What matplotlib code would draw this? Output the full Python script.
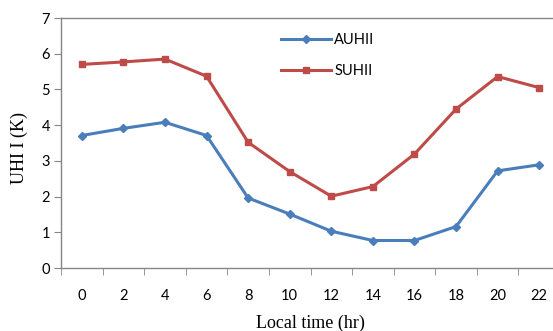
import numpy as np
import matplotlib as mpl
mpl.use('Agg')
import matplotlib.pyplot as plt
from matplotlib.ticker import FixedLocator

hours = [0, 2, 4, 6, 8, 10, 12, 14, 16, 18, 20, 22]
auhii = [3.71, 3.91, 4.08, 3.71, 1.96, 1.51, 1.03, 0.77, 0.77, 1.16, 2.72, 2.89]
suhii = [5.70, 5.77, 5.85, 5.37, 3.52, 2.70, 2.01, 2.28, 3.19, 4.45, 5.36, 5.05]

blue = '#4a7ebb'
red = '#be4b48'
grey = '#868686'

fig = plt.figure(figsize=(5.53, 3.31), dpi=100)
W, H = 553.0, 331.0
ax = fig.add_axes([61 / W, (H - 268) / H, (560 - 61) / W, (268 - 18) / H])

x = np.arange(len(hours))
ax.plot(x, auhii, color=blue, lw=2.2, marker='D', ms=4.5, label='AUHII')
ax.plot(x, suhii, color=red, lw=2.2, marker='s', ms=5, label='SUHII')

ax.set_xlim(-0.5, len(hours) - 0.5)
ax.set_ylim(0, 7)
ax.set_xticks(x)
ax.set_xticklabels([str(h) for h in hours])
ax.xaxis.set_minor_locator(FixedLocator(np.arange(-0.5, len(hours), 1.0)))
ax.tick_params(axis='x', which='major', length=0, pad=15)
ax.tick_params(axis='x', which='minor', length=5, color=grey, direction='out')
ax.tick_params(axis='y', length=5, color=grey, direction='out', pad=3)
ax.set_yticks(range(8))

for lab in ax.get_xticklabels() + ax.get_yticklabels():
    lab.set_family('Lato')
    lab.set_fontsize(10.5)

for s in ['left', 'bottom', 'top']:
    ax.spines[s].set_color(grey)
    ax.spines[s].set_linewidth(1)
ax.spines['right'].set_visible(False)

# axis titles placed in pixel terms, the x one sits right at the bottom edge
fig.text(310.5 / W, (H - 327.5) / H, 'Local time (hr)', family='Liberation Serif',
         fontsize=13, ha='center', va='baseline')
fig.text(19 / W, (H - 148) / H, 'UHI I (K)', family='Liberation Serif',
         fontsize=13, ha='center', va='center', rotation=90)

leg = ax.legend(loc='upper left', bbox_to_anchor=((281 - 61) / (560 - 61), (268 - 33) / 250),
                frameon=False, numpoints=1, handlelength=3.4, handletextpad=0.25,
                labelspacing=1.15, borderaxespad=0, borderpad=0,
                prop={'family': 'Lato', 'size': 10.5})

fig.savefig('out.png', dpi=100)
